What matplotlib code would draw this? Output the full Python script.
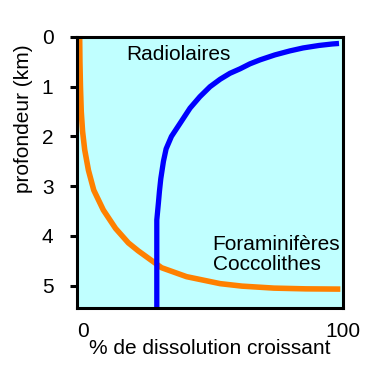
import matplotlib
matplotlib.use("Agg")
import matplotlib.pyplot as plt

# Foraminiferes / Coccolithes (orange): % dissolution vs depth (km)
orange_x = [1.0, 1.1, 1.3, 1.6, 2.1, 2.9, 4.3, 6.3, 9.9, 14.5, 19.3, 23.0,
            28.7, 31.8, 41.2, 53.8, 62.0, 68.0, 74.0, 86.0, 99.0]
orange_y = [0.0, 0.5, 1.0, 1.5, 1.9, 2.27, 2.68, 3.08, 3.48, 3.85, 4.14, 4.3,
            4.52, 4.64, 4.82, 4.96, 5.01, 5.03, 5.05, 5.065, 5.07]

# Radiolaires (blue)
blue_x = [30.0, 30.0, 30.6, 31.0, 31.5, 32.5, 33.5, 35.5, 38.7, 42.5, 46.2, 50.0,
          53.8, 57.5, 61.3, 65.0, 68.8, 74.4, 80.0, 85.0, 91.0, 96.0, 98.5]
blue_y = [5.43, 3.68, 3.34, 3.1, 2.85, 2.5, 2.25, 2.0, 1.74, 1.43, 1.2, 1.0,
          0.85, 0.73, 0.64, 0.54, 0.46, 0.36, 0.28, 0.22, 0.17, 0.14, 0.13]

y_ticks = [0, 1, 2, 3, 4, 5]
x_ticks = [0, 100]

plt.rcParams["font.family"] = ["Liberation Sans", "DejaVu Sans"]
plt.rcParams["font.size"] = 15

fig = plt.figure(figsize=(3.82, 3.86), dpi=100)
ax = fig.add_axes([77 / 382, (386 - 308) / 386, 266 / 382, 271 / 386])
ax.set_facecolor("#c0ffff")

ax.plot(orange_x, orange_y, color="#ff8000", linewidth=4.0,
        solid_capstyle="butt", solid_joinstyle="round")
ax.plot(blue_x, blue_y, color="#0000ff", linewidth=3.8,
        solid_capstyle="butt", solid_joinstyle="round")

ax.set_xlim(0, 100)
ax.set_ylim(5.45, 0)

ax.set_yticks(y_ticks)
ax.set_xticks(x_ticks)
ax.tick_params(axis="y", length=5, width=2.2, pad=12, labelsize=15)
ax.tick_params(axis="x", length=0, pad=10, labelsize=15)
for lbl in ax.get_xticklabels():
    lbl.set_horizontalalignment("left" if lbl.get_text() == "0" else "center")

for sp in ax.spines.values():
    sp.set_linewidth(2.2)

ax.set_xlabel("% de dissolution croissant", fontsize=15, labelpad=-1)
# y label sits higher than the axes centre in the original
fig.text(24 / 382, 1 - 119 / 386, "profondeur (km)", fontsize=15,
         rotation=90, ha="center", va="center")

ax.text(18.5, 0.36, "Radiolaires", fontsize=15, va="center", ha="left")
ax.text(51.0, 4.17, "Foraminifères", fontsize=15, va="center", ha="left")
ax.text(51.0, 4.57, "Coccolithes", fontsize=15, va="center", ha="left")

fig.savefig("out.png", dpi=100)
